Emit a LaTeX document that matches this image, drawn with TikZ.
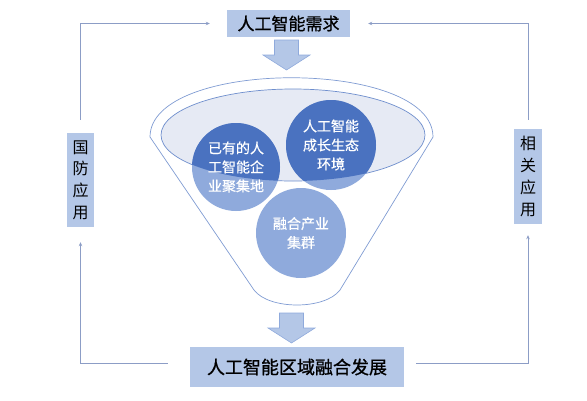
\documentclass[tikz,border=0pt]{standalone}
\usepackage{fontspec}
\newfontfamily\cjk{Noto Sans CJK SC}
\newfontfamily\cjkb[FakeBold=1]{Noto Sans CJK SC}
\newfontfamily\cjkm[FakeBold=0.5]{Noto Sans CJK SC}
\usetikzlibrary{arrows.meta}
\definecolor{boxblue}{HTML}{B4C7E7}
\definecolor{darkblue}{HTML}{4A72C0}
\definecolor{lightblue}{HTML}{8FAADC}
\definecolor{rimfill}{HTML}{E6EAF4}
\definecolor{linegray}{HTML}{8C9DC6}
\tikzset{
  textbox/.style={fill=boxblue, inner sep=0pt, font=\cjk},
  loopline/.style={draw=linegray, line width=0.9pt, -{Stealth[length=4pt,width=3.5pt]}},
  bubble/.style={shape=circle, minimum size=88pt, inner sep=0pt, align=center, text=white, font=\cjkm\fontsize{14}{19}\selectfont},
  blockarrow/.style={fill=boxblue, draw=lightblue, line width=0.6pt},
}
\begin{document}
\begin{tikzpicture}[x=1pt, y=-1pt]
\useasboundingbox (0,0) rectangle (587,400);
\node [textbox, minimum width=123pt, minimum height=27pt, font=\cjkb\fontsize{17}{20}\selectfont] (xuqiu) at (288.5,23.5) {人工智能需求};
\node [textbox, minimum width=214pt, minimum height=40pt, font=\cjkb\fontsize{18}{21}\selectfont] (fazhan) at (297,367) {人工智能区域融合发展};
\node [textbox, minimum width=27pt, minimum height=94pt, align=center, font=\cjk\fontsize{16}{21.7}\selectfont] (guofang) at (80.5,180) {国\\防\\应\\用};
\node [textbox, minimum width=28pt, minimum height=95pt, align=center, font=\cjk\fontsize{16}{21.7}\selectfont] (xiangguan) at (528,176.5) {相\\关\\应\\用};
\draw [loopline, shorten <=13pt, shorten >=17pt] (guofang.north) |- (xuqiu.west);
\draw [loopline, shorten <=9pt, shorten >=18pt] (xiangguan.north) |- (xuqiu.east);
\draw [loopline, shorten <=22pt, shorten >=15pt] ([yshift=4pt]fazhan.west) -| (guofang.south);
\draw [loopline, shorten <=12pt, shorten >=11pt] ([yshift=4pt]fazhan.east) -| (xiangguan.south);
% big arrows in and out of the funnel
\foreach \cx/\ty in {286.5/40, 291.5/313}
  \draw [blockarrow] (\cx-12,\ty) -- (\cx+12,\ty) -- (\cx+12,\ty+15) -- (\cx+23.5,\ty+15)
    -- (\cx,\ty+30) -- (\cx-23.5,\ty+15) -- (\cx-12,\ty+15) -- cycle;
% funnel
\draw [draw=darkblue!70, line width=0.7pt, fill=white] (150,137) .. controls (150,58) and (433,58) .. (433,137)
  -- (340,290) .. controls (325,310) and (269,310) .. (254,290) -- cycle;
\draw [fill=rimfill, draw=darkblue!80, line width=0.7pt] (293,135) ellipse [x radius=132pt, y radius=46pt];
\coordinate (c1) at (236,167);
\coordinate (c2) at (331,145);
\coordinate (c3) at (301,233);
\fill [lightblue] (c1) circle (44pt) (c2) circle (45pt) (c3) circle (45pt);
\begin{scope}
\clip (293,135) ellipse [x radius=132pt, y radius=46pt];
\fill [darkblue] (c1) circle (44pt) (c2) circle (45pt);
\end{scope}
\node [bubble] (qiye) at (c1) {已有的人\\工智能企\\业聚集地};
\node [bubble] (shengtai) at (c2) {人工智能\\成长生态\\环境};
\node [bubble] (jiqun) at (c3) {融合产业\\集群};
\end{tikzpicture}
\end{document}
